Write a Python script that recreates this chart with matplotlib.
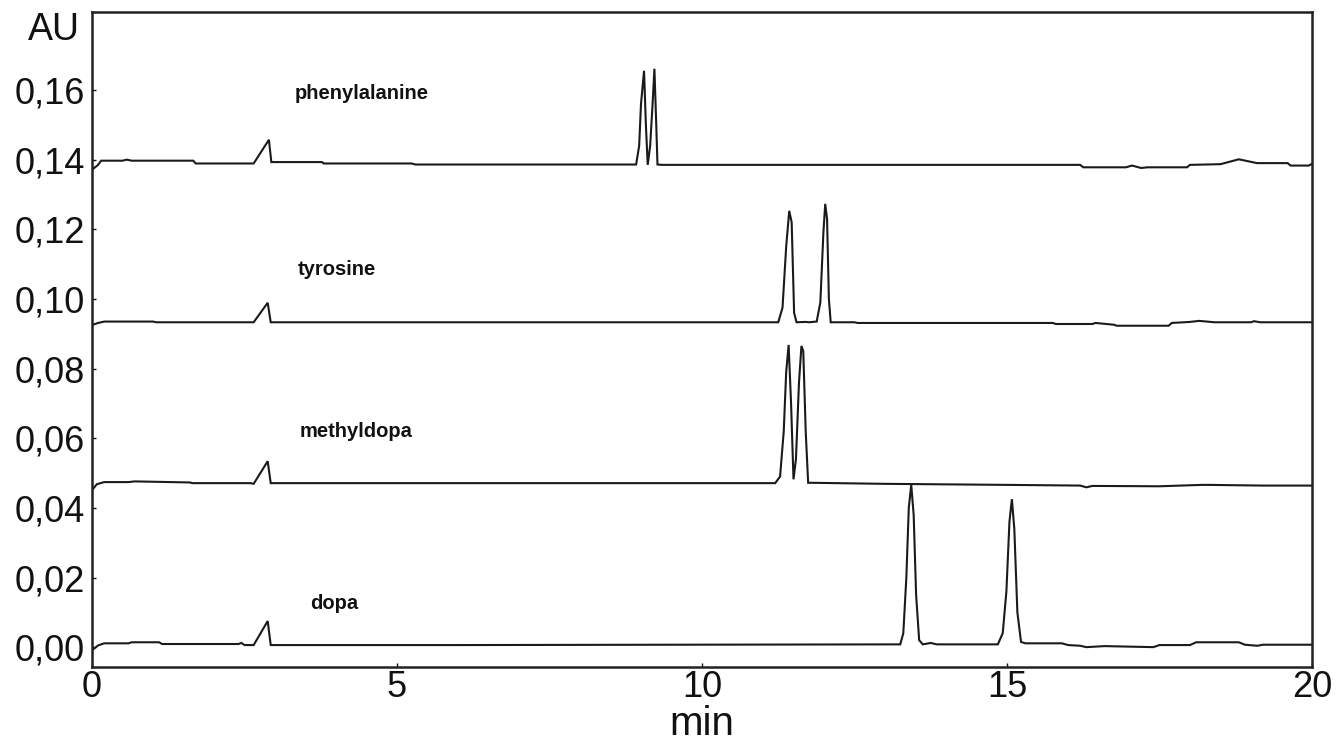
import matplotlib
matplotlib.use("Agg")
import matplotlib.pyplot as plt
import matplotlib.transforms as mtransforms

# ---- data (time in min, absorbance in AU) ----
phe_t = [0.0, 0.1, 0.15, 0.5, 0.57, 0.65, 1.66, 1.7, 2.65, 2.9, 2.94, 3.77, 3.8, 5.24, 5.3,
         8.0, 8.92, 8.97, 9.0, 9.05, 9.08, 9.11, 9.15, 9.19, 9.22, 9.25, 9.27, 9.35, 12.0,
         16.2, 16.25, 16.95, 17.05, 17.2, 17.3, 17.95, 18.0, 18.5, 18.8, 19.1, 19.6, 19.65, 19.95, 20.0]
phe_v = [0.1371, 0.1385, 0.1397, 0.1397, 0.1400, 0.1397, 0.1397, 0.1389, 0.1389, 0.1457, 0.1393, 0.1393,
         0.1389, 0.1389, 0.1386, 0.1386, 0.1386, 0.1440, 0.1560, 0.1655, 0.1500, 0.1385, 0.1440,
         0.1560, 0.1661, 0.1500, 0.1386, 0.1385, 0.1385, 0.1385, 0.1378, 0.1378, 0.1383, 0.1376,
         0.1378, 0.1378, 0.1385, 0.1387, 0.1401, 0.1390, 0.1390, 0.1383, 0.1383, 0.1388]

tyr_t = [0.0, 0.1, 0.2, 1.0, 1.05, 2.0, 2.65, 2.88, 2.93, 6.0, 11.25, 11.32, 11.38, 11.43, 11.47,
         11.51, 11.55, 11.7, 11.75, 11.88, 11.94, 11.99, 12.02, 12.05, 12.08, 12.11, 12.5, 12.55,
         15.75, 15.8, 16.4, 16.45, 16.75, 16.8, 17.65, 17.7, 18.0, 18.15, 18.4, 19.0, 19.05, 19.15, 20.0]
tyr_v = [0.0925, 0.0931, 0.0935, 0.0935, 0.0933, 0.0933, 0.0933, 0.0989, 0.0933, 0.0933, 0.0933,
         0.0975, 0.1150, 0.1253, 0.1220, 0.0960, 0.0933, 0.0934, 0.0933, 0.0935, 0.0990, 0.1190,
         0.1273, 0.1230, 0.1000, 0.0933, 0.0933, 0.0931, 0.0931, 0.0928, 0.0928, 0.0931, 0.0926,
         0.0923, 0.0923, 0.0931, 0.0934, 0.0937, 0.0933, 0.0933, 0.0936, 0.0933, 0.0933]

mdo_t = [0.0, 0.08, 0.2, 0.6, 0.7, 1.6, 1.65, 2.6, 2.65, 2.88, 2.93, 6.0, 11.2, 11.28, 11.34,
         11.38, 11.42, 11.46, 11.5, 11.54, 11.59, 11.63, 11.66, 11.7, 11.74, 11.8, 13.0, 15.0,
         16.2, 16.3, 16.4, 17.5, 18.2, 18.3, 19.2, 20.0]
mdo_v = [0.0451, 0.0468, 0.0474, 0.0474, 0.0476, 0.0473, 0.0471, 0.0471, 0.0469, 0.0534, 0.0471,
         0.0471, 0.0471, 0.0490, 0.0620, 0.0790, 0.0868, 0.0700, 0.0482, 0.0540, 0.0760, 0.0865,
         0.0850, 0.0620, 0.0472, 0.0472, 0.0469, 0.0466, 0.0464, 0.0459, 0.0463, 0.0462, 0.0466,
         0.0466, 0.0464, 0.0464]

dopa_t = [0.0, 0.1, 0.2, 0.6, 0.65, 1.1, 1.15, 2.4, 2.45, 2.5, 2.65, 2.88, 2.93, 6.0, 13.25,
          13.3, 13.35, 13.39, 13.43, 13.47, 13.51, 13.56, 13.62, 13.75, 13.85, 14.85, 14.93,
          14.99, 15.04, 15.08, 15.12, 15.17, 15.23, 15.3, 15.9, 16.0, 16.2, 16.3, 16.6, 17.4,
          17.5, 18.0, 18.1, 18.8, 18.9, 19.1, 19.2, 20.0]
dopa_v = [-0.0009, 0.0005, 0.0011, 0.0011, 0.0014, 0.0014, 0.0009, 0.0009, 0.0012, 0.0006, 0.0006,
          0.0075, 0.0006, 0.0006, 0.0008, 0.0040, 0.0200, 0.0400, 0.0466, 0.0380, 0.0150, 0.0020,
          0.0008, 0.0012, 0.0008, 0.0008, 0.0040, 0.0160, 0.0360, 0.0425, 0.0340, 0.0100, 0.0015,
          0.0011, 0.0011, 0.0006, 0.0004, 0.0000, 0.0003, 0.0000, 0.0006, 0.0006, 0.0014, 0.0014,
          0.0007, 0.0004, 0.0007, 0.0007]

labels = ["phenylalanine", "tyrosine", "methyldopa", "dopa"]
label_x = [3.33, 3.38, 3.41, 3.57]
label_y = [0.1590, 0.1085, 0.0620, 0.0125]

xticks = [0, 5, 10, 15, 20]
yticks = [0.00, 0.02, 0.04, 0.06, 0.08, 0.10, 0.12, 0.14, 0.16]
ytick_labels = ["0,00", "0,02", "0,04", "0,06", "0,08", "0,10", "0,12", "0,14", "0,16"]

# ---- figure ----
plt.rcParams['font.family'] = ['Liberation Sans', 'DejaVu Sans']
fig = plt.figure(figsize=(13.38, 7.44), dpi=100)
ax = fig.add_axes([92/1338, 1-667/744, (1312-92)/1338, (667-12)/744])

line_kw = dict(color="#1a1a1a", lw=1.5, solid_joinstyle="miter")
for t, v in [(phe_t, phe_v), (tyr_t, tyr_v), (mdo_t, mdo_v), (dopa_t, dopa_v)]:
    ax.plot(t, v, **line_kw)

for lab, lx, ly in zip(labels, label_x, label_y):
    ax.text(lx, ly, lab, fontsize=14.5, fontweight="bold",
            ha="left", va="center", color="#111111")

ax.set_xlim(0, 20)
ax.set_ylim(-0.0057, 0.1824)
ax.set_xticks(xticks)
ax.set_xticklabels([str(x) for x in xticks])
ax.set_yticks(yticks)
ax.set_yticklabels(ytick_labels)
ax.tick_params(axis="both", direction="in", length=3, width=1, labelsize=26,
               colors="#111111", pad=5)
ax.tick_params(axis="x", pad=2)
for s in ax.spines.values():
    s.set_linewidth(1.8)
    s.set_color("#222222")

ax.set_xlabel("min", fontsize=29, labelpad=0, color="#111111")
trans = mtransforms.blended_transform_factory(ax.transAxes, ax.transData)
ax.text(-0.0095, 0.1772, "AU", transform=trans, fontsize=27, ha="right", va="center",
        color="#111111")

fig.savefig("out.png", dpi=100)
